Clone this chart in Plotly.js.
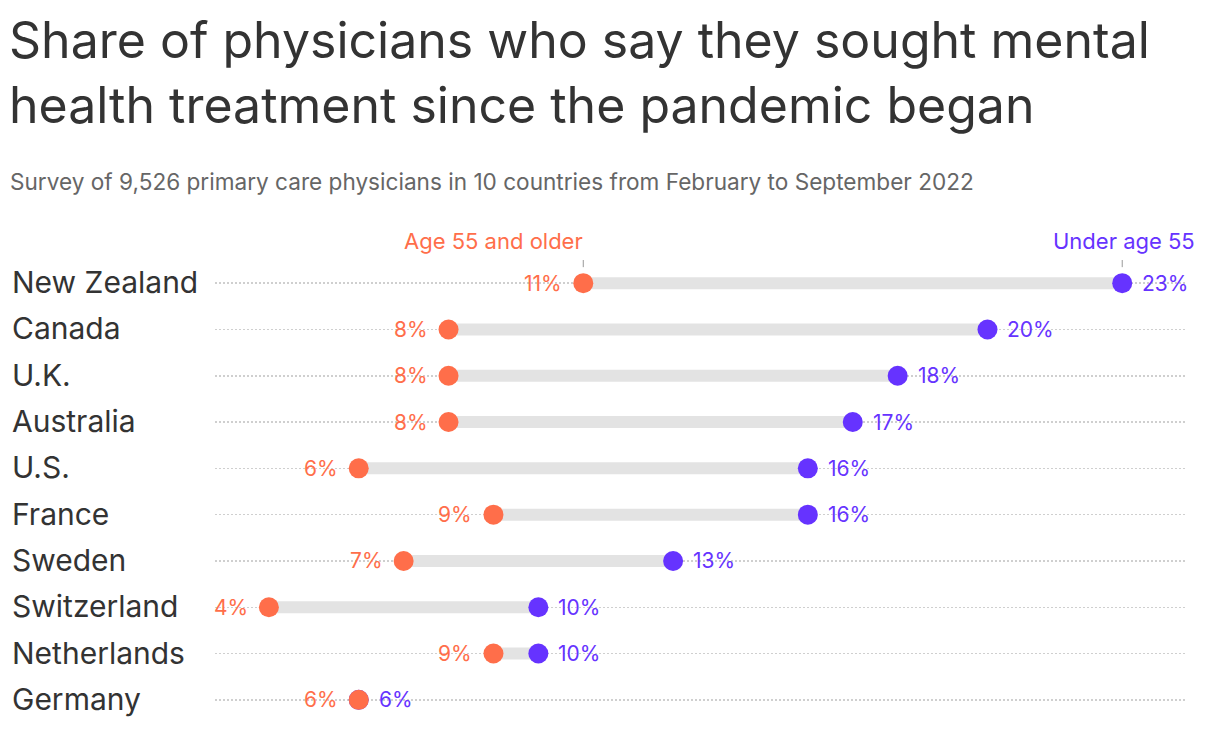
<!DOCTYPE html>
<html>
<head>
<meta charset="utf-8">
<script src="https://cdn.plot.ly/plotly-3.0.1.min.js"></script>
<style>html,body{margin:0;padding:0;background:#fff;}#chart{width:1220px;height:744px;}</style>
</head>
<body>
<div id="chart"></div>
<script>
const countries = ["New Zealand","Canada","U.K.","Australia","U.S.","France","Sweden","Switzerland","Netherlands","Germany"];
const olderValues = [11, 8, 8, 8, 6, 9, 7, 4, 9, 6];
const youngerValues = [23, 20, 18, 17, 16, 16, 13, 10, 10, 6];
const olderLabel = "Age 55 and older";
const youngerLabel = "Under age 55";
const titleText = "Share of physicians who say they sought mental<br>health treatment since the pandemic began";
const subtitleText = "Survey of 9,526 primary care physicians in 10 countries from February to September 2022";

const ORANGE = "#ff6e4a";
const PURPLE = "#6633ff";
const FONT = "Inter, 'Noto Sans', sans-serif";

const barX = [], barY = [];
countries.forEach((c, i) => { barX.push(olderValues[i], youngerValues[i], null); barY.push(c, c, null); });

const traces = [
  {x: barX, y: barY, mode: "lines", line: {color: "#e3e3e3", width: 12}, hoverinfo: "skip", showlegend: false},
  {x: youngerValues, y: countries, mode: "markers", marker: {color: PURPLE, size: 20},
   name: youngerLabel, showlegend: false, cliponaxis: false},
  {x: olderValues, y: countries, mode: "markers", marker: {color: ORANGE, size: 20},
   name: olderLabel, showlegend: false, cliponaxis: false}
];

const annotations = [];
countries.forEach((c, i) => {
  annotations.push({x: -0.2091, xref: "paper", xshift: -2, y: c, yref: "y", yshift: 1, text: c, showarrow: false, xanchor: "left",
    font: {size: 30, color: "#333333", family: FONT}});
  annotations.push({x: youngerValues[i], xref: "x", y: c, yref: "y", text: youngerValues[i] + "%",
    showarrow: false, xanchor: "left", xshift: 18, font: {size: 21, color: PURPLE, family: FONT}});
  annotations.push({x: olderValues[i], xref: "x", y: c, yref: "y", text: olderValues[i] + "%",
    showarrow: false, xanchor: "right", xshift: -19, font: {size: 21, color: ORANGE, family: FONT}});
});
annotations.push({x: olderValues[0], xref: "x", y: countries[0], yref: "y", yshift: 42, text: olderLabel,
  showarrow: false, xanchor: "right", xshift: 2, font: {size: 22, color: ORANGE, family: FONT}});
annotations.push({x: youngerValues[0], xref: "x", y: countries[0], yref: "y", yshift: 42, text: youngerLabel,
  showarrow: false, xanchor: "center", xshift: 2, font: {size: 22, color: PURPLE, family: FONT}});
annotations.push({xref: "paper", x: -0.2091, xshift: -4, xanchor: "left", yref: "paper", y: 1.1685, yanchor: "middle",
  text: subtitleText, showarrow: false, font: {size: 22.6, color: "#666666", family: FONT}});

const shapes = [olderValues[0], youngerValues[0]].map(v => ({
  type: "line", xref: "x", x0: v, x1: v, yref: "y", ysizemode: "pixel", yanchor: countries[0],
  y0: 16, y1: 31, line: {color: "#999999", width: 1}
}));

const layout = {
  width: 1220, height: 744,
  margin: {l: 215, r: 34, t: 260, b: 21},
  paper_bgcolor: "#fff", plot_bgcolor: "#fff",
  font: {family: FONT, color: "#333"},
  title: {text: titleText, xref: "container", x: 9/1220, xanchor: "left", yref: "container", y: 1 - 58/744, yanchor: "top",
          font: {size: 50, color: "#333333", family: FONT}},
  xaxis: {range: [2.8, 24.42], showgrid: false, zeroline: false, showticklabels: false, fixedrange: true},
  yaxis: {autorange: false, range: [9.5, -0.5], type: "category", categoryorder: "array", categoryarray: countries,
          showgrid: true, gridcolor: "#cfcfcf", griddash: "2px,2px", gridwidth: 1.5, showticklabels: false, zeroline: false},
  annotations: annotations,
  shapes: shapes,
  showlegend: false
};

Plotly.newPlot("chart", traces, layout, {displayModeBar: false, staticPlot: true});
</script>
</body>
</html>
